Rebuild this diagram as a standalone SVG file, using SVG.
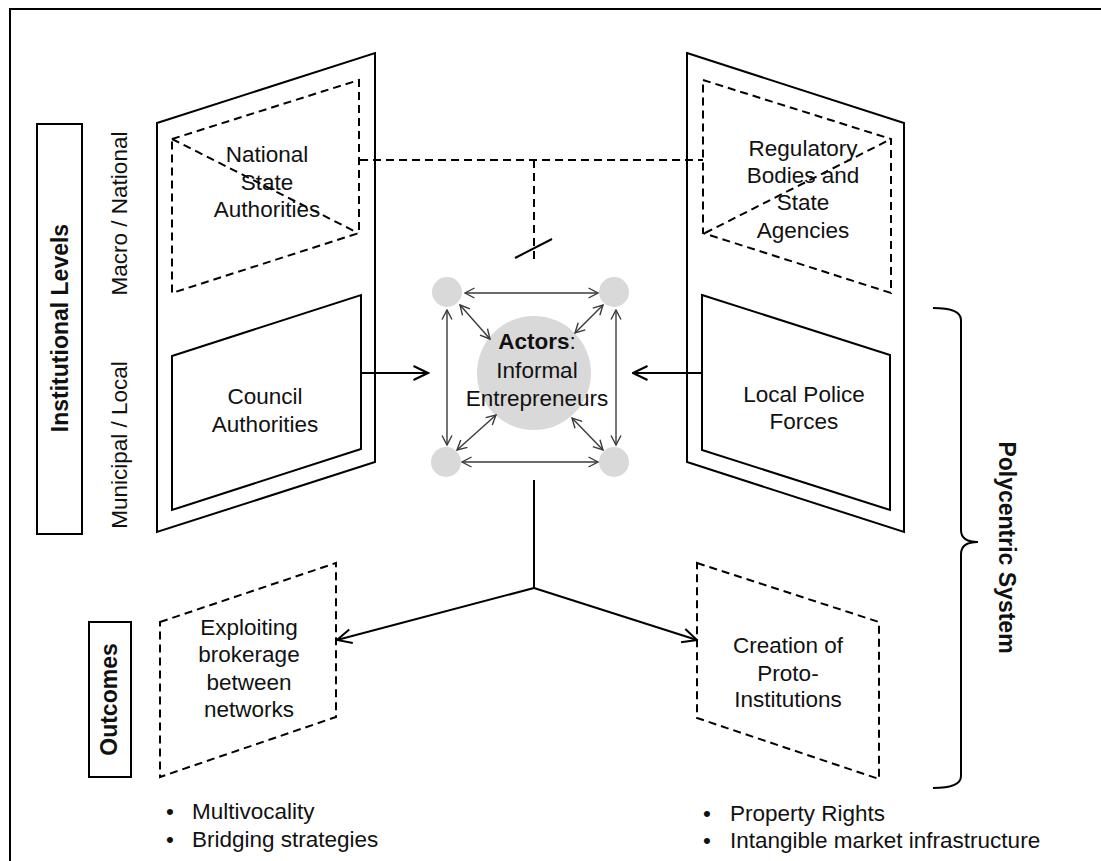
<svg xmlns="http://www.w3.org/2000/svg" width="1101" height="861" viewBox="0 0 1101 861">
<defs>
<style>
text{font-family:"Liberation Sans",Arial,sans-serif;font-size:22.5px;fill:#111;text-anchor:middle}
.b{font-weight:bold;font-size:23px}
.l{text-anchor:start}
.solid{fill:#fff;stroke:#000;stroke-width:2}
.dash{fill:none;stroke:#000;stroke-width:2;stroke-dasharray:8 5}
.con{fill:none;stroke:#000;stroke-width:2}
.thin{fill:none;stroke:#3a3a3a;stroke-width:1.4}
.dot{fill:#d9d9d9}
</style>
<marker id="open" viewBox="0 0 17 17" markerWidth="17" markerHeight="17" refX="15.5" refY="8.5" orient="auto" markerUnits="userSpaceOnUse">
<path d="M1,1.5 L15.5,8.5 L1,15.5" fill="none" stroke="#000" stroke-width="2"/>
</marker>
<marker id="sm" viewBox="0 0 12 12" markerWidth="12" markerHeight="12" refX="10.5" refY="6" orient="auto-start-reverse" markerUnits="userSpaceOnUse">
<path d="M1,1 L10.5,6 L1,11" fill="none" stroke="#3a3a3a" stroke-width="1.4"/>
</marker>
</defs>
<rect width="1101" height="861" fill="#fff"/>
<path d="M10,875 V9 H1110" fill="none" stroke="#000" stroke-width="2"/>

<g id="label-institutional">
<rect x="37" y="124" width="45" height="410" fill="#fff" stroke="#000" stroke-width="2"/>
<text class="b" transform="translate(68,328) rotate(-90)">Institutional Levels</text>
</g>
<g id="label-macro"><text transform="translate(127,213.5) rotate(-90)">Macro / National</text></g>
<g id="label-municipal"><text transform="translate(127,445) rotate(-90)">Municipal / Local</text></g>

<g id="left-panel">
<polygon class="solid" points="157,123 375,53 375,462 157,532"/>
<g id="national">
<polygon class="dash" points="172,139 359,80 359,233 172,293"/>
<line class="dash" x1="172" y1="139" x2="358" y2="233"/>
<text x="267" y="162">National</text>
<text x="267" y="190">State</text>
<text x="267" y="217">Authorities</text>
</g>
<g id="council">
<polygon class="solid" points="172,356 361,295 361,449 172,510"/>
<text x="265" y="404">Council</text>
<text x="265" y="432">Authorities</text>
</g>
</g>

<g id="right-panel">
<polygon class="solid" points="687,53 904,123 904,532 687,462"/>
<g id="regulatory">
<polygon class="dash" points="703,80 891,139 891,293 703,233"/>
<line class="dash" x1="705" y1="233" x2="891" y2="139"/>
<text x="803" y="156">Regulatory</text>
<text x="803" y="183">Bodies and</text>
<text x="803" y="210">State</text>
<text x="803" y="238">Agencies</text>
</g>
<g id="police">
<polygon class="solid" points="702,295 890,355 890,510 702,450"/>
<text x="804" y="402">Local Police</text>
<text x="804" y="429">Forces</text>
</g>
</g>

<g id="actors">
<circle class="dot" cx="534" cy="373" r="57"/>
<circle class="dot" cx="447" cy="292" r="15"/>
<circle class="dot" cx="614" cy="292" r="15"/>
<circle class="dot" cx="446" cy="462" r="15"/>
<circle class="dot" cx="614" cy="462" r="15"/>
<text x="537" y="349"><tspan font-weight="bold">Actors</tspan>:</text>
<text x="537" y="378">Informal</text>
<text x="537" y="406">Entrepreneurs</text>
</g>

<g id="outcome-left">
<polygon class="dash" points="160,622 336,563 336,717 160,777"/>
<text x="249" y="635">Exploiting</text>
<text x="249" y="662">brokerage</text>
<text x="249" y="690">between</text>
<text x="249" y="717">networks</text>
</g>
<g id="outcome-right">
<polygon class="dash" points="697,563 879,622 879,779 697,718"/>
<text x="788" y="653">Creation of</text>
<text x="788" y="681">Proto-</text>
<text x="788" y="707">Institutions</text>
</g>

<g id="label-outcomes">
<rect x="89" y="622" width="42" height="155" fill="#fff" stroke="#000" stroke-width="2"/>
<text class="b" transform="translate(117,699.5) rotate(-90)">Outcomes</text>
</g>

<g id="polycentric">
<path class="con" d="M933,308 Q961,308 961,320 V530 Q961,542 978,542 Q961,542 961,554 V776 Q961,788 933,788"/>
<text class="b" transform="translate(999,547.5) rotate(90)">Polycentric System</text>
</g>

<g id="bullets">
<text class="l" x="166" y="819">•</text>
<text class="l" x="192" y="819">Multivocality</text>
<text class="l" x="166" y="847">•</text>
<text class="l" x="192" y="847">Bridging strategies</text>
<text class="l" x="703" y="821">•</text>
<text class="l" x="730" y="821">Property Rights</text>
<text class="l" x="703" y="848">•</text>
<text class="l" x="730" y="848">Intangible market infrastructure</text>
</g>

<g id="connectors">
<path class="dash" d="M360,160 H703 M534,160 V263"/>
<line class="con" x1="515" y1="258" x2="552" y2="239"/>
<line class="con" x1="361" y1="373" x2="428" y2="373" marker-end="url(#open)"/>
<line class="con" x1="702" y1="373" x2="633" y2="373" marker-end="url(#open)"/>
<path class="con" d="M534,480 V588"/>
<line class="con" x1="534" y1="588" x2="337" y2="640" marker-end="url(#open)"/>
<line class="con" x1="534" y1="588" x2="697" y2="640" marker-end="url(#open)"/>
<line class="thin" x1="465" y1="293" x2="598" y2="293" marker-start="url(#sm)" marker-end="url(#sm)"/>
<line class="thin" x1="462" y1="462" x2="598" y2="462" marker-start="url(#sm)" marker-end="url(#sm)"/>
<line class="thin" x1="447" y1="310" x2="447" y2="445" marker-start="url(#sm)" marker-end="url(#sm)"/>
<line class="thin" x1="616" y1="310" x2="616" y2="445" marker-start="url(#sm)" marker-end="url(#sm)"/>
<line class="thin" x1="460" y1="305" x2="490" y2="339" marker-start="url(#sm)" marker-end="url(#sm)"/>
<line class="thin" x1="603" y1="305" x2="575" y2="333" marker-start="url(#sm)" marker-end="url(#sm)"/>
<line class="thin" x1="496" y1="415" x2="457" y2="450" marker-start="url(#sm)" marker-end="url(#sm)"/>
<line class="thin" x1="572" y1="418" x2="603" y2="450" marker-start="url(#sm)" marker-end="url(#sm)"/>
</g>
</svg>
